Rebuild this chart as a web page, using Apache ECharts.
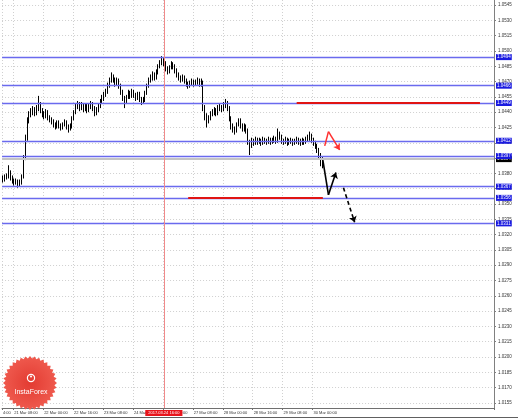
<!DOCTYPE html>
<html><head><meta charset="utf-8">
<script src="https://cdn.jsdelivr.net/npm/echarts@6/dist/echarts.min.js"></script>
<style>html,body{margin:0;padding:0;background:#fff}#c{width:518px;height:418px}</style>
</head><body><div id="c"></div>
<script>
// [open, close, low, high]
const candles = [
[1.0376,1.0374,1.0371,1.0378],[1.0374,1.0376,1.0372,1.0379],[1.0376,1.0377,1.0374,1.0380],[1.0377,1.0381,1.0375,1.0388],
[1.0381,1.0376,1.0373,1.0383],[1.0376,1.0373,1.0370,1.0378],[1.0373,1.0371,1.0368,1.0375],[1.0371,1.0372,1.0369,1.0375],
[1.0372,1.0369,1.0366,1.0374],[1.0369,1.0371,1.0367,1.0374],[1.0371,1.0377,1.0369,1.0379],[1.0377,1.0395,1.0375,1.0398],
[1.0395,1.0415,1.0393,1.0418],[1.0415,1.0432,1.0412,1.0435],[1.0432,1.0438,1.0429,1.0441],[1.0438,1.0440,1.0435,1.0444],
[1.0440,1.0442,1.0437,1.0446],[1.0442,1.0439,1.0436,1.0445],[1.0439,1.0444,1.0437,1.0447],[1.0444,1.0448,1.0441,1.0456],
[1.0448,1.0442,1.0439,1.0450],[1.0442,1.0439,1.0435,1.0444],[1.0439,1.0437,1.0433,1.0441],[1.0437,1.0440,1.0434,1.0443],
[1.0440,1.0435,1.0432,1.0442],[1.0435,1.0433,1.0430,1.0437],[1.0433,1.0431,1.0428,1.0435],[1.0431,1.0428,1.0425,1.0433],
[1.0428,1.0426,1.0423,1.0430],[1.0426,1.0430,1.0424,1.0432],[1.0430,1.0427,1.0424,1.0432],[1.0427,1.0425,1.0422,1.0429],
[1.0425,1.0428,1.0423,1.0430],[1.0428,1.0430,1.0426,1.0433],[1.0430,1.0426,1.0423,1.0432],[1.0426,1.0424,1.0420,1.0428],
[1.0424,1.0426,1.0422,1.0429],[1.0426,1.0434,1.0424,1.0436],[1.0434,1.0440,1.0432,1.0442],[1.0440,1.0446,1.0438,1.0449],
[1.0446,1.0448,1.0443,1.0451],[1.0448,1.0444,1.0441,1.0450],[1.0444,1.0447,1.0442,1.0450],[1.0447,1.0443,1.0440,1.0449],
[1.0443,1.0446,1.0441,1.0449],[1.0446,1.0442,1.0439,1.0448],[1.0442,1.0445,1.0440,1.0448],[1.0445,1.0448,1.0443,1.0451],
[1.0448,1.0444,1.0441,1.0450],[1.0444,1.0440,1.0436,1.0446],[1.0440,1.0442,1.0437,1.0445],[1.0442,1.0446,1.0440,1.0448],
[1.0446,1.0450,1.0444,1.0453],[1.0450,1.0454,1.0448,1.0457],[1.0454,1.0457,1.0451,1.0460],[1.0457,1.0460,1.0455,1.0463],
[1.0460,1.0466,1.0458,1.0469],[1.0466,1.0472,1.0464,1.0474],[1.0472,1.0475,1.0469,1.0479],[1.0475,1.0472,1.0469,1.0477],
[1.0472,1.0468,1.0465,1.0474],[1.0468,1.0471,1.0466,1.0474],[1.0471,1.0466,1.0463,1.0473],[1.0466,1.0460,1.0457,1.0468],
[1.0460,1.0454,1.0451,1.0462],[1.0454,1.0451,1.0444,1.0456],[1.0451,1.0455,1.0449,1.0457],[1.0455,1.0459,1.0453,1.0462],
[1.0459,1.0456,1.0453,1.0461],[1.0456,1.0460,1.0454,1.0463],[1.0460,1.0457,1.0454,1.0462],[1.0457,1.0454,1.0451,1.0459],
[1.0454,1.0458,1.0452,1.0460],[1.0458,1.0453,1.0450,1.0460],[1.0453,1.0450,1.0447,1.0455],[1.0450,1.0452,1.0448,1.0455],
[1.0452,1.0459,1.0450,1.0461],[1.0459,1.0466,1.0457,1.0468],[1.0466,1.0472,1.0464,1.0474],[1.0472,1.0474,1.0469,1.0477],
[1.0474,1.0477,1.0471,1.0480],[1.0477,1.0474,1.0471,1.0479],[1.0474,1.0479,1.0472,1.0482],[1.0479,1.0485,1.0477,1.0487],
[1.0485,1.0489,1.0483,1.0491],[1.0489,1.0491,1.0486,1.0495],[1.0491,1.0488,1.0485,1.0493],[1.0488,1.0483,1.0480,1.0490],
[1.0483,1.0480,1.0477,1.0485],[1.0480,1.0484,1.0478,1.0486],[1.0484,1.0487,1.0482,1.0490],[1.0487,1.0485,1.0482,1.0489],
[1.0485,1.0481,1.0478,1.0487],[1.0481,1.0477,1.0474,1.0483],[1.0477,1.0474,1.0471,1.0479],[1.0474,1.0472,1.0469,1.0476],
[1.0472,1.0474,1.0470,1.0477],[1.0474,1.0471,1.0468,1.0476],[1.0471,1.0468,1.0465,1.0473],[1.0468,1.0466,1.0463,1.0470],
[1.0466,1.0468,1.0464,1.0471],[1.0468,1.0470,1.0466,1.0473],[1.0470,1.0468,1.0465,1.0472],[1.0468,1.0469,1.0466,1.0472],
[1.0469,1.0471,1.0467,1.0474],[1.0471,1.0468,1.0465,1.0473],[1.0468,1.0469,1.0465,1.0473],[1.0469,1.0444,1.0441,1.0471],
[1.0444,1.0436,1.0432,1.0447],[1.0436,1.0432,1.0425,1.0439],[1.0432,1.0434,1.0429,1.0437],[1.0434,1.0438,1.0432,1.0441],
[1.0438,1.0440,1.0436,1.0443],[1.0440,1.0442,1.0437,1.0445],[1.0442,1.0439,1.0436,1.0444],[1.0439,1.0444,1.0437,1.0447],
[1.0444,1.0445,1.0441,1.0448],[1.0445,1.0443,1.0440,1.0447],[1.0443,1.0447,1.0441,1.0450],[1.0447,1.0449,1.0444,1.0453],
[1.0449,1.0444,1.0441,1.0451],[1.0444,1.0434,1.0431,1.0446],[1.0434,1.0426,1.0423,1.0436],[1.0426,1.0424,1.0420,1.0429],
[1.0424,1.0422,1.0418,1.0426],[1.0422,1.0428,1.0420,1.0430],[1.0428,1.0432,1.0426,1.0434],[1.0432,1.0427,1.0424,1.0434],
[1.0427,1.0424,1.0421,1.0429],[1.0424,1.0426,1.0421,1.0429],[1.0426,1.0422,1.0419,1.0428],[1.0422,1.0411,1.0408,1.0424],
[1.0411,1.0407,1.0398,1.0413],[1.0407,1.0412,1.0405,1.0415],[1.0412,1.0410,1.0407,1.0414],[1.0410,1.0413,1.0408,1.0416],
[1.0413,1.0411,1.0408,1.0415],[1.0411,1.0412,1.0409,1.0415],[1.0412,1.0410,1.0407,1.0414],[1.0410,1.0413,1.0408,1.0416],
[1.0413,1.0412,1.0409,1.0415],[1.0412,1.0411,1.0408,1.0414],[1.0411,1.0413,1.0409,1.0416],[1.0413,1.0411,1.0408,1.0415],
[1.0411,1.0412,1.0409,1.0415],[1.0412,1.0414,1.0410,1.0417],[1.0414,1.0412,1.0409,1.0416],[1.0412,1.0418,1.0410,1.0424],
[1.0418,1.0416,1.0413,1.0421],[1.0416,1.0412,1.0409,1.0418],[1.0412,1.0411,1.0408,1.0414],[1.0411,1.0413,1.0409,1.0416],
[1.0413,1.0410,1.0407,1.0415],[1.0410,1.0411,1.0408,1.0414],[1.0411,1.0412,1.0409,1.0415],[1.0412,1.0410,1.0407,1.0414],
[1.0410,1.0411,1.0408,1.0414],[1.0411,1.0413,1.0409,1.0416],[1.0413,1.0411,1.0408,1.0415],[1.0411,1.0410,1.0407,1.0414],
[1.0410,1.0412,1.0408,1.0415],[1.0412,1.0411,1.0408,1.0414],[1.0411,1.0413,1.0409,1.0416],[1.0413,1.0415,1.0411,1.0418],
[1.0415,1.0417,1.0412,1.0421],[1.0417,1.0413,1.0410,1.0419],[1.0413,1.0410,1.0407,1.0415],[1.0410,1.0407,1.0404,1.0412],
[1.0407,1.0403,1.0400,1.0409],[1.0403,1.0398,1.0395,1.0405],[1.0398,1.0391,1.0387,1.0400],[1.0391,1.0394,1.0385,1.0396]
];
const totalBars = 263;
const timeLabels = [[0,'4:00'],[6,'21 Mar 08:00'],[22,'22 Mar 00:00'],[38,'22 Mar 16:00'],[54,'23 Mar 08:00'],
  [70,'24 Mar 00:00'],[86,'24 Mar 16:00'],[102,'27 Mar 08:00'],[118,'28 Mar 00:00'],[134,'28 Mar 16:00'],
  [150,'29 Mar 08:00'],[166,'30 Mar 00:00']];
const markerBar = 86;
const markerLabel = '2017.03.24 16:00';
const priceTicks = [1.0155,1.0170,1.0185,1.0200,1.0215,1.0230,1.0245,1.0260,1.0275,1.0290,1.0305,1.0320,1.0335,
  1.0350,1.0365,1.0380,1.0395,1.0410,1.0425,1.0440,1.0455,1.0470,1.0485,1.0500,1.0515,1.0530,1.0545];
const blueLevels = [1.0494,1.0466,1.0449,1.0412,1.0397,1.0367,1.0356,1.0331];
const bidPrice = 1.0394;
const redSegments = [[[157,1.0449],[255,1.0449]],[[99,1.0356],[171,1.0356]]];
const redArrow = [[172,1.0407],[174,1.0421],[180,1.0403]];
const blackArrow = [[171,1.0393],[174,1.0359],[178,1.0381]];
const blackDashed = [[182,1.0366],[188,1.0332]];

const cats = Array.from({length: totalBars}, (_, i) => 'b' + i);
const labelMap = {}; timeLabels.forEach(([i, t]) => labelMap[i] = t);
const tickSet = new Set(timeLabels.map(t => t[0]));
const FONT = 'Liberation Sans';

function pathLines(pts, style, arrowEnd) {
  const out = [];
  for (let k = 0; k < pts.length - 1; k++) {
    const last = k === pts.length - 2;
    out.push([{coord: pts[k], symbol: 'none', lineStyle: style, label: {show: false}},
              {coord: pts[k+1], symbol: (last && arrowEnd) ? 'arrow' : 'none', symbolSize: 6,
               lineStyle: style, label: {show: false}}]);
  }
  return out;
}

const mlData = [];
mlData.push({yAxis: bidPrice, lineStyle: {color: '#c4c4c4', width: 2, type: 'solid'},
  label: {show: true, position: 'end', formatter: bidPrice.toFixed(4), backgroundColor: '#000', color: '#fff',
    fontSize: 4.5, fontFamily: FONT, padding: [1, 1, 0, 1], distance: 2}});
blueLevels.forEach(v => mlData.push({yAxis: v, lineStyle: {color: '#6a6aee', width: 1.4, type: 'solid'},
  label: {show: true, position: 'end', formatter: v.toFixed(4), backgroundColor: '#1a1ae0', color: '#fff',
    fontSize: 4.5, fontFamily: FONT, padding: [1, 1, 0, 1], distance: 2}}));
mlData.push({xAxis: markerBar, lineStyle: {color: '#f08a8a', width: 1, type: 'solid'}, label: {show: false}});
redSegments.forEach(s => mlData.push(...pathLines(s, {color: '#e01414', width: 2, type: 'solid'}, false)));
mlData.push(...pathLines(redArrow, {color: '#ff3030', width: 1.5, type: 'solid'}, true));
mlData.push(...pathLines(blackArrow, {color: '#000', width: 1.6, type: 'solid'}, true));
mlData.push(...pathLines(blackDashed, {color: '#000', width: 1.6, type: [4, 3]}, true));

// InstaForex badge shape
const starPts = [];
const cx = 30, cy = 383, spikes = 36;
for (let k = 0; k < spikes * 2; k++) {
  const r = k % 2 === 0 ? 27 : 24.5;
  const a = Math.PI * k / spikes;
  starPts.push([cx + r * Math.cos(a), cy + r * Math.sin(a)]);
}

const chart = echarts.init(document.getElementById('c'), null, {renderer: 'canvas'});
chart.setOption({
  animation: false,
  backgroundColor: '#fff',
  grid: {left: 0, right: 24, top: 0, bottom: 10, containLabel: false},
  xAxis: [{
    type: 'category', data: cats, boundaryGap: true,
    axisLine: {show: true, lineStyle: {color: '#707070', width: 1}},
    axisTick: {show: true, length: 2, interval: (i) => tickSet.has(i), lineStyle: {color: '#707070'}},
    axisLabel: {interval: 0, formatter: (v, i) => labelMap[i] || '', align: 'left', fontSize: 4, fontFamily: FONT, color: '#333', margin: 3},
    splitLine: {show: true, interval: (i) => tickSet.has(i), lineStyle: {color: '#d0d0d0', width: 1, type: [1, 2]}}
  }, {
    type: 'category', data: cats, boundaryGap: true, position: 'bottom', offset: 0,
    axisLine: {show: false}, axisTick: {show: false}, splitLine: {show: false},
    axisLabel: {interval: 0, formatter: (v, i) => i === markerBar ? '{r|' + markerLabel + '}' : '', align: 'center', margin: 2,
      rich: {r: {backgroundColor: '#e8141b', color: '#fff', fontSize: 4, fontFamily: FONT, padding: [1, 3, 1, 3]}}}
  }],
  yAxis: {
    type: 'value', position: 'right', min: 1.0150, max: 1.0550,
    axisLine: {show: true, lineStyle: {color: '#808080'}},
    axisTick: {show: true, length: 2, customValues: priceTicks, lineStyle: {color: '#808080'}},
    axisLabel: {customValues: priceTicks, formatter: v => v.toFixed(4), fontSize: 4.5, fontFamily: FONT, color: '#333', margin: 4},
    splitLine: {show: true, customValues: priceTicks, lineStyle: {color: '#d0d0d0', width: 1, type: [1, 2]}}
  },
  series: [{
    type: 'candlestick', xAxisIndex: 0, data: candles, barWidth: 1.2,
    itemStyle: {color: '#ffffff', color0: '#000000', borderColor: '#000000', borderColor0: '#000000', borderWidth: 1},
    markLine: {silent: true, symbol: 'none', animation: false, precision: 4, data: mlData}
  }],
  graphic: [
    {type: 'polygon', shape: {points: starPts}, z: 50,
     style: {fill: new echarts.graphic.RadialGradient(0.5, 0.5, 0.5, [{offset: 0, color: '#e33b32'}, {offset: 1, color: '#ef5a4e'}])}},
    {type: 'circle', shape: {cx: 31, cy: 378, r: 3.6}, z: 51, style: {fill: 'none', stroke: '#fff', lineWidth: 1.2}},
    {type: 'circle', shape: {cx: 31, cy: 376.5, r: 1}, z: 51, style: {fill: '#fff'}},
    {type: 'text', z: 51, style: {text: 'InstaForex', x: 31, y: 392, fill: '#fff', font: '7px "Liberation Sans"', align: 'center', verticalAlign: 'middle'}},
    {type: 'line', z: 51, shape: {x1: 0, y1: 417.5, x2: 518, y2: 417.5}, style: {stroke: '#606060', lineWidth: 1}}
  ]
});
</script></body></html>
